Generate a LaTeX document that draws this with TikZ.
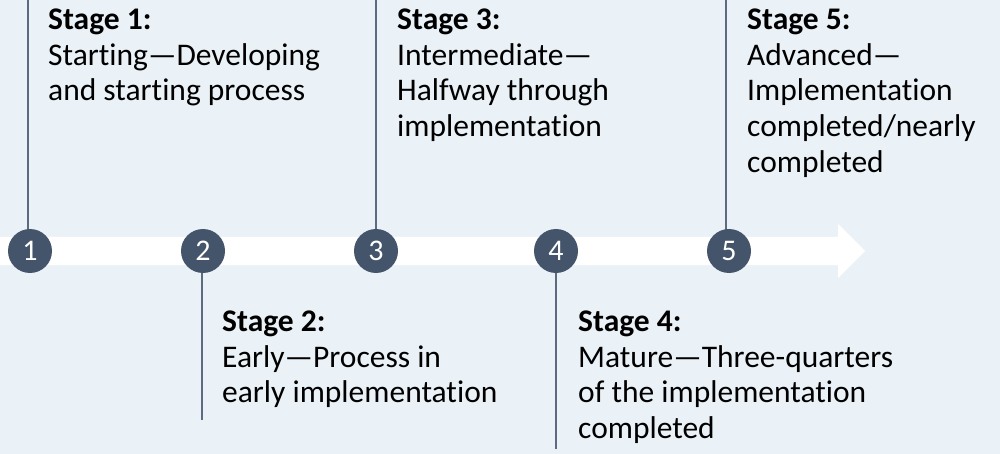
\documentclass[tikz,border=0pt]{standalone}
\usepackage{fontspec}
\setmainfont{Carlito}[Ligatures=NoCommon]
\definecolor{pagebg}{RGB}{235,242,247}
\definecolor{dotfill}{RGB}{68,84,106}
\definecolor{stemcol}{RGB}{92,107,128}
\tikzset{
  stagedot/.style={circle, fill=dotfill, text=white, minimum size=44pt, inner sep=0pt,
    font=\fontsize{30}{30}\selectfont},
  stemline/.style={draw=stemcol, line width=1.5pt},
  stagetext/.style={anchor=north west, align=left, inner sep=0pt, text=black,
    font=\fontsize{31.5}{35.7}\selectfont},
}
\begin{document}
\begin{tikzpicture}[x=1pt, y=-1pt]
  \fill[pagebg] (0,0) rectangle (1000,454);
  \useasboundingbox (0,0) rectangle (1000,454);

  % timeline arrow
  \fill[white] (0,237) -- (838,237) -- (838,224) -- (865,251) -- (838,278)
    -- (838,265) -- (0,265) -- cycle;

  % stem end points
  \coordinate (e1) at (28,0);
  \coordinate (e2) at (202,420);
  \coordinate (e3) at (376,0);
  \coordinate (e4) at (556,449);
  \coordinate (e5) at (726,0);

  % stems
  \draw[stemline] (e1) -- (e1 |- 0,240);
  \draw[stemline] (e2) -- (e2 |- 0,262);
  \draw[stemline] (e3) -- (e3 |- 0,240);
  \draw[stemline] (e4) -- (e4 |- 0,262);
  \draw[stemline] (e5) -- (e5 |- 0,240);

  % stage markers
  \node[stagedot] (d1) at (30,251) {1};
  \node[stagedot] (d2) at (203,251) {2};
  \node[stagedot] (d3) at (376,251) {3};
  \node[stagedot] (d4) at (556,251) {4};
  \node[stagedot] (d5) at (729,251) {5};

  % stage descriptions (top edge = first baseline minus cap height)
  \node[stagetext] (s1) at (48,8.7) {\textbf{Stage 1:}\\Starting—Developing\\and starting process};
  \node[stagetext] (s2) at (222,310.7) {\textbf{Stage 2:}\\Early—Process in\\early implementation};
  \node[stagetext] (s3) at (397,8.7) {\textbf{Stage 3:}\\Intermediate—\\Halfway through\\implementation};
  \node[stagetext] (s4) at (578,310.7) {\textbf{Stage 4:}\\Mature—Three-quarters\\of the implementation\\completed};
  \node[stagetext] (s5) at (747,8.7) {\textbf{Stage 5:}\\Advanced—\\Implementation\\completed/nearly\\completed};
\end{tikzpicture}
\end{document}
